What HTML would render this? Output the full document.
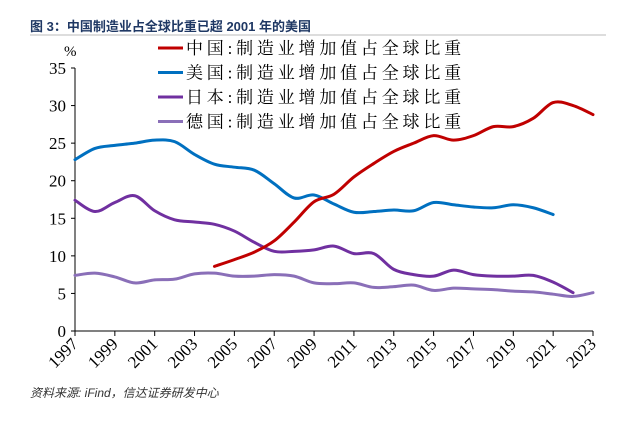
<!DOCTYPE html>
<html><head><meta charset="utf-8"><style>
body{margin:0;background:#fff;width:636px;height:433px;overflow:hidden}
svg text{font-family:"Liberation Serif","Noto Serif CJK SC",serif}
</style></head><body>
<svg width="636" height="433">
<text x="30" y="31" font-size="13" font-weight="bold" fill="#1f3864" style="font-family:'Liberation Sans','Noto Sans CJK SC',sans-serif">图 3：中国制造业占全球比重已超 2001 年的美国</text>
<line x1="30" y1="35" x2="606" y2="35" stroke="#bbb" stroke-width="1"/>
<g id="axes"></g><g id="series"></g><g id="legend"></g>
<text x="30" y="397" font-size="12" font-style="italic" fill="#333" style="font-family:'Liberation Sans','Noto Sans CJK SC',sans-serif">资料来源: iFind，信达证券研发中心</text>
</svg>
<script>
const years=[];for(let y=1997;y<=2023;y++)years.push(y);
const yTicks=[0,5,10,15,20,25,30,35];
const xTickLabels=[1997,1999,2001,2003,2005,2007,2009,2011,2013,2015,2017,2019,2021,2023];
const china=[null,null,null,null,null,null,null,8.6,9.5,10.5,12.0,14.5,17.2,18.2,20.5,22.3,23.9,25.0,26.0,25.4,26.0,27.2,27.2,28.3,30.4,30.0,28.8];
const usa=[22.8,24.3,24.7,25.0,25.4,25.2,23.5,22.2,21.8,21.4,19.6,17.7,18.1,16.9,15.8,15.9,16.1,16.0,17.1,16.8,16.5,16.4,16.8,16.4,15.5,null,null];
const japan=[17.4,15.9,17.1,18.0,16.0,14.8,14.5,14.2,13.3,11.8,10.6,10.6,10.8,11.3,10.3,10.3,8.2,7.5,7.3,8.1,7.5,7.3,7.3,7.4,6.5,5.1,null];
const germany=[7.4,7.7,7.2,6.4,6.8,6.9,7.6,7.7,7.3,7.3,7.5,7.3,6.4,6.3,6.4,5.8,5.9,6.1,5.4,5.7,5.6,5.5,5.3,5.2,4.9,4.6,5.1];
const seriesNames=["中国:制造业增加值占全球比重","美国:制造业增加值占全球比重","日本:制造业增加值占全球比重","德国:制造业增加值占全球比重"];
const colors=["#c00000","#0070c0","#7030a0","#8a6fb8"];
const X0=75,X1=593,Y0=331,Y1=68;
const sx=y=>X0+(y-1997)*(X1-X0)/26;
const sy=v=>Y0-v*(Y0-Y1)/35;
const NS="http://www.w3.org/2000/svg";
function mk(tag,attrs,parent){const e=document.createElementNS(NS,tag);for(const k in attrs)e.setAttribute(k,attrs[k]);parent.appendChild(e);return e;}
const ax=document.getElementById('axes');
let a=mk('line',{x1:X0,y1:Y1,x2:X0,y2:Y0,stroke:'#000','stroke-width':1},ax);


a=mk('line',{x1:X0,y1:Y0,x2:X1,y2:Y0,stroke:'#000','stroke-width':1},ax);


yTicks.forEach(t=>{const y=sy(t);mk('line',{x1:X0-4,y1:y,x2:X0,y2:y,stroke:'#000'},ax);
const tx=mk('text',{x:X0-9,y:y+6,'font-size':17,'text-anchor':'end',fill:'#000'},ax);tx.textContent=t;

});
years.forEach(yr=>{if((yr-1997)%2==0){const x=sx(yr);mk('line',{x1:x,y1:Y0,x2:x,y2:Y0+5,stroke:'#000'},ax);}});
xTickLabels.forEach(yr=>{const x=sx(yr);const tx=mk('text',{x:x+4,y:Y0+14,'font-size':17,'text-anchor':'end',fill:'#000',transform:`rotate(-45 ${x+4} ${Y0+14})`},ax);tx.textContent=yr;

});
const pc=mk('text',{x:64,y:56,'font-size':15,fill:'#000'},ax);pc.textContent='%';


function path(vals){const pts=[];vals.forEach((v,i)=>{if(v!=null)pts.push([sx(years[i]),sy(v)]);});
let d=`M${pts[0][0]},${pts[0][1]}`;for(let i=0;i<pts.length-1;i++){const p0=pts[i-1]||pts[i],p1=pts[i],p2=pts[i+1],p3=pts[i+2]||p2;
d+=` C${p1[0]+(p2[0]-p0[0])/6},${p1[1]+(p2[1]-p0[1])/6} ${p2[0]-(p3[0]-p1[0])/6},${p2[1]-(p3[1]-p1[1])/6} ${p2[0]},${p2[1]}`;}return d;}
const sg=document.getElementById('series');
const names=['china-line','usa-line','japan-line','germany-line'];
[germany,japan,usa,china].forEach((s,k)=>{const i=3-k;const p=mk('path',{d:path(s),fill:'none',stroke:colors[i],'stroke-width':3,'stroke-linejoin':'round','stroke-linecap':'round'},sg);

});
const lg=document.getElementById('legend');
seriesNames.forEach((n,i)=>{const y=48+i*24.5;const g=mk('g',{},lg);


mk('line',{x1:158,y1:y,x2:183,y2:y,stroke:colors[i],'stroke-width':3},g);
const t=mk('text',{x:186,y:y+6,'font-size':17,fill:'#000','letter-spacing':'3.8px'},g);t.textContent=n;});
</script>
</body></html>
